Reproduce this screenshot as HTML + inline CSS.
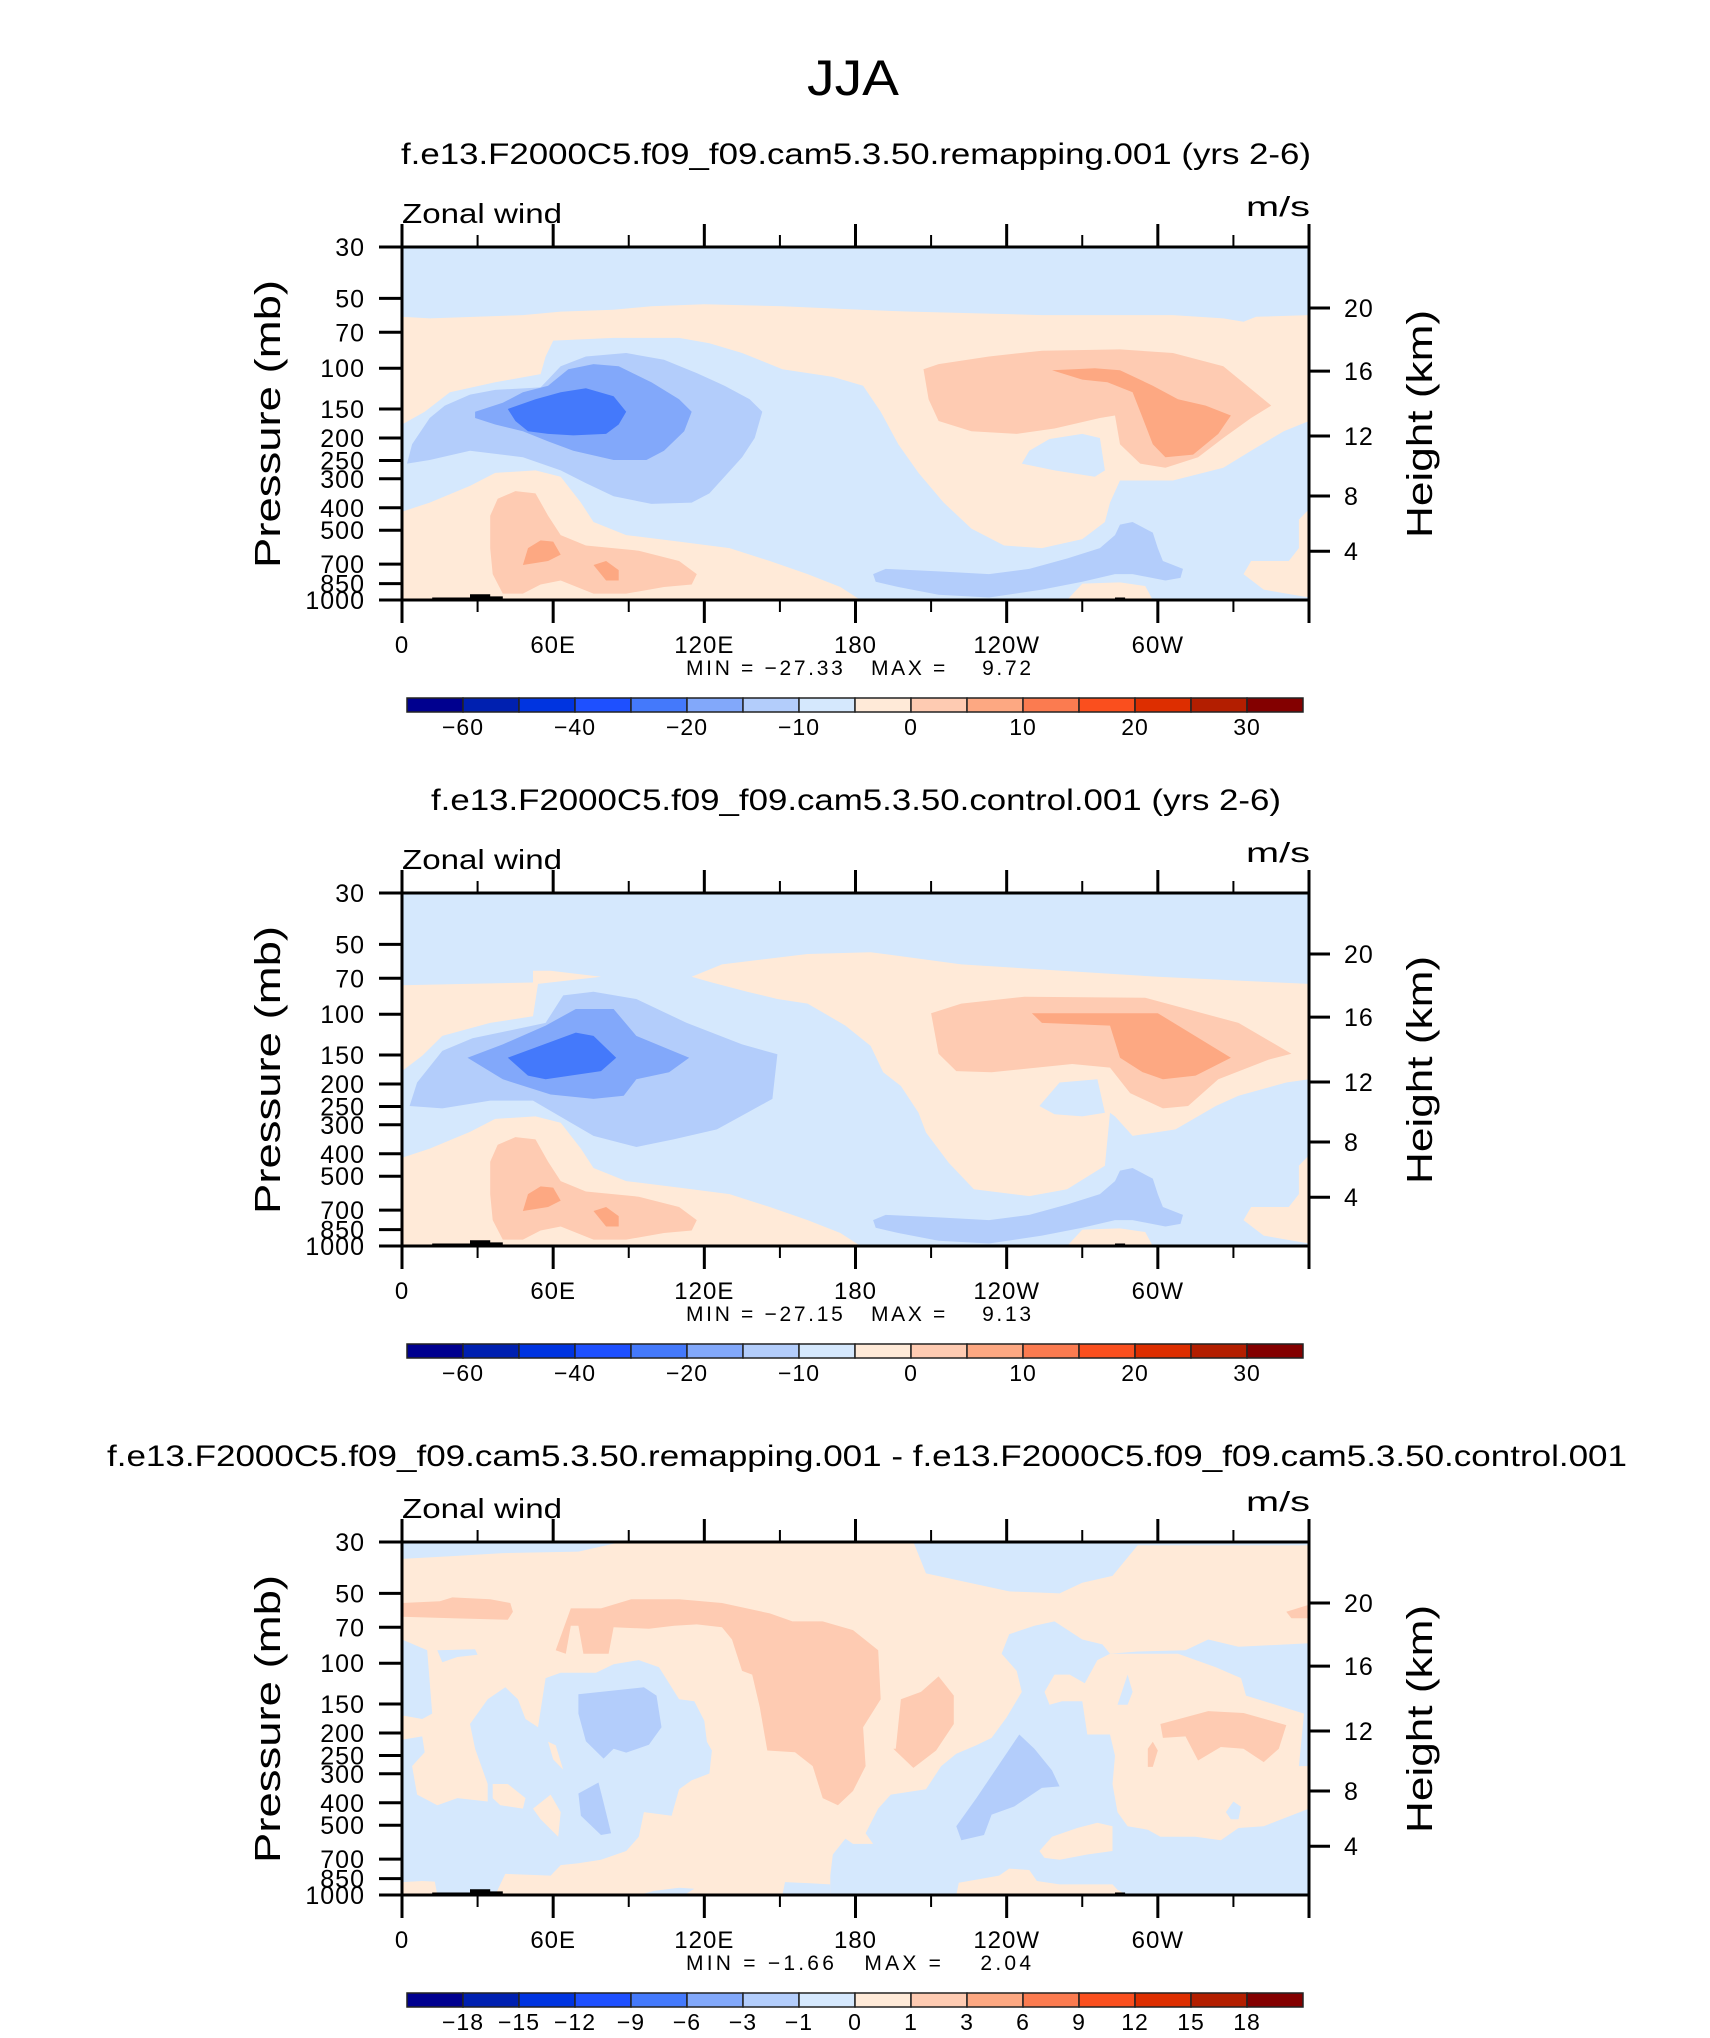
<!DOCTYPE html>
<html><head><meta charset="utf-8">
<style>
html,body{margin:0;padding:0;background:#fff;}
svg{display:block;}
text{font-family:"Liberation Sans",sans-serif;fill:#000;}
.pre{white-space:pre;}
</style></head>
<body>
<svg id="fig" width="1710" height="2038" viewBox="0 0 1710 2038" xmlns="http://www.w3.org/2000/svg">
<rect x="0" y="0" width="1710" height="2038" fill="#fff"/>
<text x="853" y="95" font-size="50" text-anchor="middle" textLength="92" lengthAdjust="spacingAndGlyphs">JJA</text>
</svg>
<script>
// ---------- colour map (16 bins) ----------
const cmap = ["#00008f","#0020b0","#0034e0","#1e50ff","#4479fb","#82a8fa","#b3cdfb","#d5e8fd","#ffead8","#fecbb2","#fda882","#fb7b50","#fa4f1e","#dd2e00","#b31e00","#830000"];
const cbLabelsAbs = ["\u221260","\u221240","\u221220","\u221210","0","10","20","30"];
const cbLabelIdxAbs = [1,3,5,7,9,11,13,15];
const cbLabelsDiff = ["\u221218","\u221215","\u221212","\u22129","\u22126","\u22123","\u22121","0","1","3","6","9","12","15","18"];
const cbLabelIdxDiff = [1,2,3,4,5,6,7,8,9,10,11,12,13,14,15];
const pressureTicks = [30,50,70,100,150,200,250,300,400,500,700,850,1000];
const heightTickLabels = ["4","8","12","16","20"];
const heightTickP = [616,356,196,103,55];
const lonMajor = [0,60,120,180,240,300,360];
const lonMajorLabels = ["0","60E","120E","180","120W","60W",""];
const lonMinor = [30,90,150,210,270,330];
const panelTitles = ["f.e13.F2000C5.f09_f09.cam5.3.50.remapping.001 (yrs 2-6)","f.e13.F2000C5.f09_f09.cam5.3.50.control.001 (yrs 2-6)","f.e13.F2000C5.f09_f09.cam5.3.50.remapping.001 - f.e13.F2000C5.f09_f09.cam5.3.50.control.001"];
const minValues = ["\u221227.33","\u221227.15","\u22121.66"];
const maxValues = ["9.72","9.13","2.04"];

// ---------- panel 1 contour polygons [lon, hPa] ----------
const p1Cream = [[0,60],[11,61],[48,59],[63,57],[84,56],[99,54],[120,53],[151,54],[182,56],[202,57],[254,59],[306,59],[326,61],[334,63],[339,60],[360,59],[360,169],[350,187],[337,227],[326,269],[306,305],[285,305],[281,380],[279,461],[270,546],[254,597],[239,582],[226,492],[215,380],[205,283],[197,213],[190,154],[183,119],[171,109],[151,101],[135,86],[122,78],[110,74],[84,74],[60,76],[57,89],[55,106],[37,115],[19,127],[9,154],[0,175]];
const p1CreamLow = [[0,416],[11,380],[27,322],[37,283],[53,276],[63,294],[71,380],[76,461],[89,525],[110,560],[130,597],[146,679],[161,773],[174,879],[182,1000],[0,1000]];
const p1CreamRight = [[360,406],[356,450],[356,597],[352,679],[337,679],[334,773],[342,902],[360,975]];
const p1CreamSpot = [[264,1000],[270,850],[285,840],[295,870],[298,1000]];
const p1Hole = [[249,227],[257,202],[270,192],[277,200],[279,276],[275,294],[259,276],[246,258]];
const p1Jet = [[2,258],[4,213],[11,164],[17,145],[27,130],[37,124],[55,121],[63,98],[73,89],[89,86],[104,92],[117,105],[128,119],[138,136],[143,154],[140,200],[135,242],[128,294],[122,347],[115,380],[99,385],[84,357],[73,313],[63,276],[48,242],[27,227],[11,249]];
const p1Strip = [[187,773],[192,734],[213,753],[233,773],[249,734],[264,662],[277,597],[283,525],[285,473],[290,461],[298,512],[300,597],[302,679],[310,734],[309,803],[303,824],[290,773],[283,773],[270,835],[254,902],[233,975],[213,950],[197,879],[188,835]];
const p1Blue = [[29,154],[40,141],[48,127],[58,119],[66,101],[76,96],[86,98],[99,115],[110,136],[115,154],[112,187],[104,227],[97,249],[84,249],[68,227],[58,207],[48,187],[37,175],[29,164]];
const p1Dark = [[42,150],[53,136],[63,127],[73,122],[84,132],[89,154],[86,175],[81,192],[68,195],[58,192],[50,187],[45,169]];
const p1OrUp = [[207,101],[213,96],[233,89],[254,84],[285,83],[306,86],[326,98],[345,145],[337,164],[326,200],[316,242],[303,269],[293,258],[285,213],[283,160],[277,164],[259,182],[244,192],[226,187],[213,169],[209,136]];
const p1OrLow = [[36,773],[35,597],[35,433],[38,366],[45,339],[53,347],[58,433],[63,525],[73,582],[94,613],[110,679],[117,773],[115,857],[104,879],[89,938],[76,938],[63,824],[55,857],[48,938],[40,938]];
const p1Or2Up = [[258,102],[275,100],[285,102],[298,119],[308,136],[319,145],[329,160],[324,192],[314,236],[303,242],[298,213],[295,175],[290,127],[280,115],[270,112]];
const p1Or2a = [[48,706],[50,597],[55,553],[60,560],[63,637],[58,679]];
const p1Or2b = [[76,706],[81,679],[86,743],[86,824],[81,824]];
const topoA = [[12,1000],[12,975],[27,975],[27,945],[35,945],[35,965],[40,965],[40,1000]];
const topoB = [[283,1000],[283,975],[287,975],[287,988],[310,988],[310,1000]];

// ---------- panel 2 ----------
const p2CreamLeft = [[0,75],[52,73],[52,65],[59,65],[79,69],[54,74],[52,102],[35,109],[16,124],[8,151],[0,176]];
const p2CreamMid = [[115,69],[127,61],[161,55],[186,54],[222,61],[300,69],[360,74],[360,191],[351,197],[332,225],[323,249],[307,314],[290,335],[283,276],[281,266],[279,451],[264,569],[249,609],[227,569],[217,437],[208,324],[205,266],[198,204],[191,178],[186,137],[176,112],[161,90],[149,86],[137,80],[123,73]];
const p2Hole = [[253,249],[261,197],[276,191],[279,266],[270,276],[259,270]];
const p2Jet = [[3,249],[6,197],[16,144],[28,127],[57,109],[64,83],[76,80],[93,86],[113,109],[135,135],[149,149],[147,232],[137,266],[125,314],[108,346],[93,374],[76,335],[52,236],[35,236],[16,255]];
const p2Blue = [[26,154],[40,135],[57,112],[69,95],[84,95],[93,124],[114,154],[106,178],[93,191],[88,225],[76,232],[59,222],[40,191]];
const p2Dark = [[42,154],[69,120],[76,124],[85,154],[79,176],[57,191],[50,184]];
const p2OrUp = [[210,99],[222,90],[247,84],[295,85],[332,109],[353,148],[344,157],[324,191],[312,249],[302,255],[289,219],[281,170],[266,164],[234,178],[220,176],[213,148]];
const p2Or2Up = [[250,99],[300,99],[329,154],[315,184],[302,191],[294,178],[285,154],[281,112],[254,109]];

// ---------- panel 3 (difference) ----------
const p3TL = [[0,30],[0,35.5],[20,34.5],[40,33.5],[70,33],[87,30]];
const p3TR = [[203,30],[208,41],[241,49],[261,50],[270,45],[282,42],[292,31],[360,31],[360,30]];
const p3LBbig = [[0,214],[8,207],[9,242],[4,278],[6,369],[14,410],[22,382],[34,395],[34,332],[29,234],[27,183],[34,143],[41,127],[46,143],[49,174],[54,189],[57,116],[63,110],[77,110],[84,101],[94,97],[102,104],[110,143],[116,146],[120,177],[121,218],[123,238],[122,299],[115,320],[110,350],[107,455],[96,439],[94,561],[89,646],[79,705],[70,730],[63,743],[59,825],[41,811],[37,1000],[0,1000]];
const p3LBtop = [[0,79],[10,88],[12,165],[8,174],[0,168]];
const p3LBsmall = [[14,88],[29,87],[30,92],[22,94],[16,99]];
const p3LB2 = [[170,1000],[170,825],[171,669],[176,571],[179,602],[187,602],[184,542],[189,424],[194,369],[208,350],[214,278],[220,246],[228,226],[234,210],[240,171],[246,133],[244,108],[238,91],[241,75],[251,69],[259,66],[270,79],[278,83],[281,91],[292,89],[311,88],[320,79],[332,85],[360,82],[360,1000]];
const p3CrA = [[36,332],[42,332],[49,382],[48,424],[39,410],[36,382]];
const p3CrB = [[52,424],[59,369],[63,439],[62,561],[55,471]];
const p3CrC = [[58,218],[61,226],[64,288],[60,260]];
const p3CrD = [[0,1000],[0,880],[8,870],[13,875],[14,1000]];
const p3C1 = [[255,133],[259,112],[265,112],[271,122],[276,97],[281,91],[308,91],[323,104],[333,116],[335,138],[358,165],[356,278],[360,278],[360,424],[342,505],[332,514],[325,581],[315,561],[301,561],[296,523],[288,505],[284,439],[282,332],[283,251],[281,203],[272,203],[270,146],[262,146],[257,151]];
const p3C2 = [[253,646],[258,561],[268,514],[276,488],[282,505],[282,646],[272,669],[261,705],[255,692]];
const p3C3 = [[220,1000],[221,885],[237,825],[241,769],[249,780],[252,870],[261,900],[282,900],[284,949],[288,1000]];
const p3HoleA = [[327,439],[330,395],[333,416],[332,471],[329,471]];
const p3HoleB = [[284,151],[288,112],[290,133],[288,151]];
const p3BitA = [[151,1000],[152,880],[162,890],[170,900],[170,1000]];
const p3BitB = [[94,1000],[100,960],[110,930],[116,940],[112,1000]];
const p3B1 = [[70,136],[96,127],[101,138],[103,189],[98,225],[89,243],[84,234],[80,258],[73,217],[70,165]];
const p3B2 = [[70,365],[78,327],[80,400],[83,542],[79,551],[71,455]];
const p3B3 = [[220,505],[228,382],[245,203],[251,234],[258,290],[261,340],[254,345],[243,415],[234,450],[231,551],[222,580]];
const p3O1 = [[0,55],[15,54],[20,52],[35,53],[43,55],[44,60],[42,65],[20,64],[0,63]];
const p3O2 = [[61,88],[67,58],[79,58],[91,53],[110,53],[127,55],[146,61],[155,66],[167,66],[179,72],[189,88],[190,143],[183,189],[184,278],[179,356],[173,410],[167,382],[163,278],[156,242],[145,238],[142,155],[139,112],[135,108],[131,79],[127,70],[117,68],[108,69],[98,71],[84,70],[82,91],[72,91],[70,69],[67,69],[65,91]];
const p3O3 = [[196,234],[198,143],[206,133],[213,114],[219,138],[219,183],[212,238],[203,283],[195,234]];
const p3O4 = [[301,183],[311,171],[320,161],[334,164],[351,185],[348,234],[342,267],[334,234],[325,230],[316,263],[311,207],[302,210]];
const p3O4b = [[296,234],[298,218],[300,238],[298,280],[296,280]];
const p3O5 = [[351,60],[360,56],[360,64],[353,64]];

const panelBg = [7,7,8];
const panelShapes = [
  [p1Cream,p1CreamLow,p1CreamRight,p1CreamSpot,p1Hole,p1Jet,p1Strip,p1Blue,p1Dark,p1OrUp,p1OrLow,p1Or2Up,p1Or2a,p1Or2b],
  [p2CreamLeft,p2CreamMid,p1CreamLow,p1CreamRight,p1CreamSpot,p2Hole,p2Jet,p1Strip,p2Blue,p2Dark,p2OrUp,p1OrLow,p2Or2Up,p1Or2a,p1Or2b],
  [p3TL,p3TR,p3LBbig,p3LBtop,p3LBsmall,p3LB2,p3CrA,p3CrB,p3CrC,p3CrD,p3C1,p3C2,p3C3,p3HoleA,p3HoleB,p3BitA,p3BitB,p3B1,p3B2,p3B3,p3O1,p3O2,p3O3,p3O4,p3O4b,p3O5]
];
const panelShapeColors = [
  [8,8,8,8,7,6,6,5,4,9,9,10,10,10],
  [8,8,8,8,8,7,6,6,5,4,9,9,10,10,10],
  [7,7,7,7,7,7,8,8,8,8,8,8,8,7,7,7,7,6,6,6,9,9,9,9,9,9]
];

// ---------- layout ----------
const NS = "http://www.w3.org/2000/svg";
const svg = document.getElementById('fig');
const L = 402, R = 1309, PH = 353;
const panelTop = [247, 893, 1542];
const titleY = [164, 810, 1466];
const titleLen = [910, 850, 1520];
const CBL = 407, CBW = 896;

function el(tag, attrs, parent){
  const e = document.createElementNS(NS, tag);
  for (const k in attrs) e.setAttribute(k, attrs[k]);
  (parent||svg).appendChild(e);
  return e;
}
function xS(lon){ return L + lon/360*(R-L); }
function yS(T, p){ return T + PH*Math.log(p/30)/Math.log(1000/30); }

for (let i=0;i<3;i++){
  const T = panelTop[i], B = T+PH;
  const g = el('g', {});
  
  

  const t = el('text', {x:(i==2?867:856), y:titleY[i], 'font-size':30, 'text-anchor':'middle', textLength:titleLen[i], lengthAdjust:'spacingAndGlyphs'}, g);
  t.textContent = panelTitles[i];
  
  

  const zw = el('text', {x:L, y:T-24, 'font-size':28, textLength:160, lengthAdjust:'spacingAndGlyphs'}, g);
  zw.textContent = 'Zonal wind';
  
  
  const un = el('text', {x:R+1, y:T-31, 'font-size':28, 'text-anchor':'end', textLength:64, lengthAdjust:'spacingAndGlyphs'}, g);
  un.textContent = 'm/s';
  
  

  const cp = el('clipPath', {id:'clip'+i}, g);
  el('rect', {x:L, y:T, width:R-L, height:PH}, cp);
  const plot = el('g', {'clip-path':'url(#clip'+i+')'}, g);
  
  
  const bg = el('rect', {x:L, y:T, width:R-L, height:PH, fill:cmap[panelBg[i]]}, plot);
  
  
  panelShapes[i].forEach((poly, k) => {
    const d = poly.map((pt,j)=>(j?'L':'M')+xS(pt[0]).toFixed(1)+','+yS(T,pt[1]).toFixed(1)).join('')+'Z';
    const pa = el('path', {d:d, fill:cmap[panelShapeColors[i][k]]}, plot);
    
    
  });
  [topoA, topoB].forEach(poly => {
    const d = poly.map((pt,j)=>(j?'L':'M')+xS(pt[0]).toFixed(1)+','+yS(T,pt[1]).toFixed(1)).join('')+'Z';
    const pa = el('path', {d:d, fill:'#000'}, plot);
    
    
  });

  const fr = el('rect', {x:L, y:T, width:R-L, height:PH, fill:'none', stroke:'#000', 'stroke-width':3}, g);
  
  

  pressureTicks.forEach(p => {
    const y = yS(T,p);
    el('line', {x1:L-23, x2:L, y1:y, y2:y, stroke:'#000', 'stroke-width':3}, g);
    const lb = el('text', {x:365, y:y+9, 'font-size':25, 'text-anchor':'end', 'letter-spacing':'1'}, g);
    lb.textContent = String(p);
    
    
  });
  const py = el('text', {x:0, y:0, 'font-size':36, 'text-anchor':'middle', textLength:288, lengthAdjust:'spacingAndGlyphs', transform:'translate(280,'+(T+177)+') rotate(-90)'}, g);
  py.textContent = 'Pressure (mb)';
  
  

  heightTickP.forEach((p,k) => {
    const y = yS(T,p);
    el('line', {x1:R, x2:R+21, y1:y, y2:y, stroke:'#000', 'stroke-width':3}, g);
    const lb = el('text', {x:1344, y:y+9, 'font-size':25, 'letter-spacing':'1'}, g);
    lb.textContent = heightTickLabels[k];
    
    
  });
  const hy = el('text', {x:0, y:0, 'font-size':36, 'text-anchor':'middle', textLength:228, lengthAdjust:'spacingAndGlyphs', transform:'translate(1432,'+(T+177)+') rotate(-90)'}, g);
  hy.textContent = 'Height (km)';
  
  

  lonMajor.forEach((lon,k) => {
    const x = xS(lon);
    el('line', {x1:x, x2:x, y1:T-23, y2:T, stroke:'#000', 'stroke-width':3}, g);
    el('line', {x1:x, x2:x, y1:B, y2:B+23, stroke:'#000', 'stroke-width':3}, g);
    if (lonMajorLabels[k]){
      const lb = el('text', {x:x, y:B+53, 'font-size':24, 'text-anchor':'middle', 'letter-spacing':'1'}, g);
      lb.textContent = lonMajorLabels[k];
      
      
    }
  });
  lonMinor.forEach(lon => {
    const x = xS(lon);
    el('line', {x1:x, x2:x, y1:T-12, y2:T, stroke:'#000', 'stroke-width':2}, g);
    el('line', {x1:x, x2:x, y1:B, y2:B+12, stroke:'#000', 'stroke-width':2}, g);
  });

  const mm = el('text', {x:686, y:B+75, 'font-size':21, 'class':'pre', textLength:(i==2?345:345), lengthAdjust:'spacing'}, g);
  mm.textContent = 'MIN = ' + minValues[i] + '   MAX =    ' + maxValues[i];
  
  

  const cb = el('g', {}, g);
  
  
  const cbT = T + 451, bw = CBW/16;
  cmap.forEach((c,k) => {
    const r = el('rect', {x:CBL+k*bw, y:cbT, width:bw, height:14, fill:c, stroke:'#222', 'stroke-width':1.5}, cb);
    
    
  });
  const labs = i==2 ? cbLabelsDiff : cbLabelsAbs;
  const idx = i==2 ? cbLabelIdxDiff : cbLabelIdxAbs;
  labs.forEach((s,k) => {
    const lb = el('text', {x:CBL+idx[k]*bw, y:T+488, 'font-size':23, 'text-anchor':'middle', 'letter-spacing':'1'}, cb);
    lb.textContent = s;
    
    
  });
}
</script>
</body></html>
